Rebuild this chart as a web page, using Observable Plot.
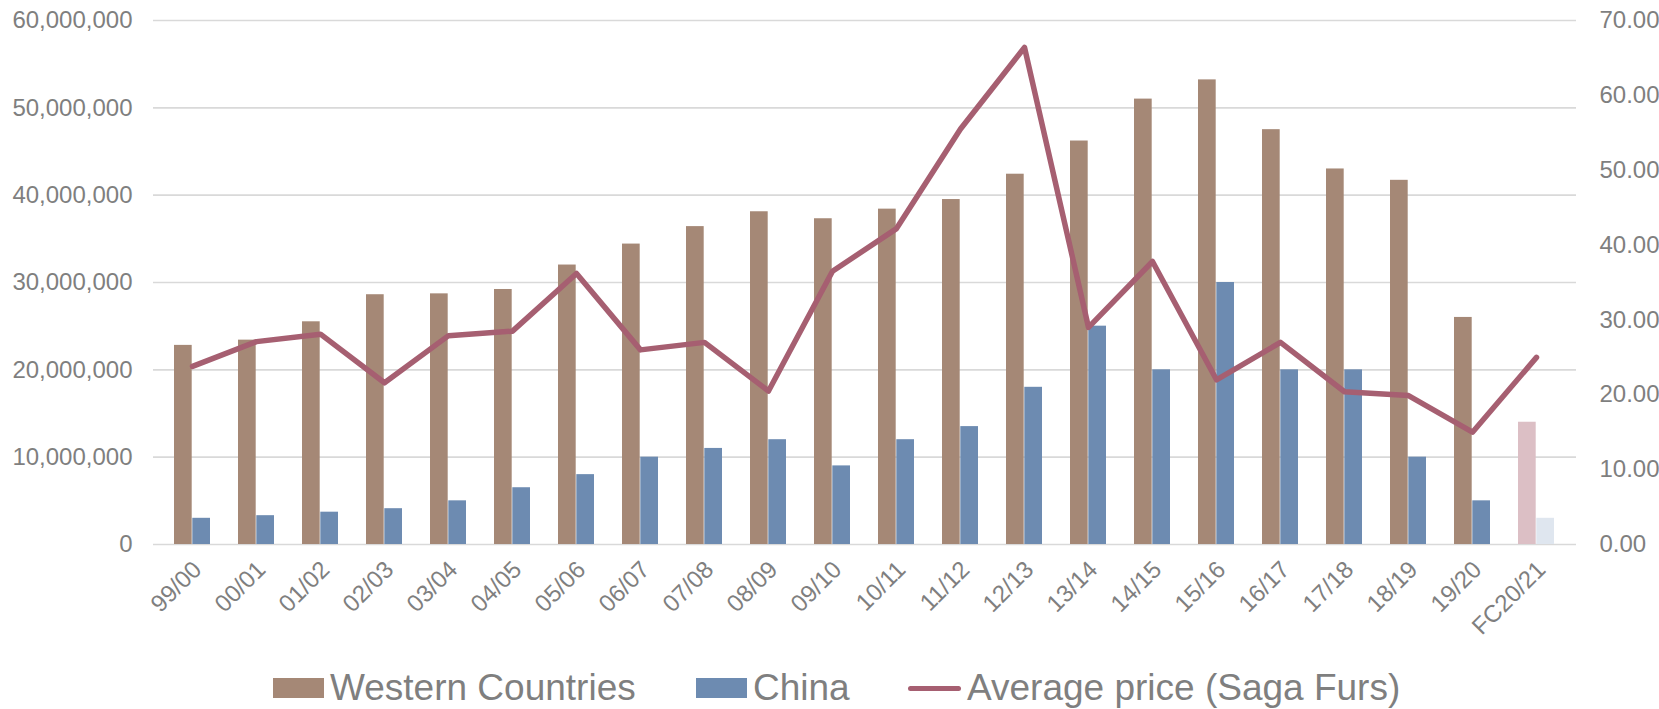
<!DOCTYPE html>
<html>
<head>
<meta charset="utf-8">
<script src="https://cdn.jsdelivr.net/npm/d3@7"></script>
<script src="https://cdn.jsdelivr.net/npm/@observablehq/plot@0.6"></script>
<style>
  body { margin: 0; background: #fff; font-family: "Liberation Sans", Arial, sans-serif; }
  #wrap { position: relative; width: 1659px; height: 709px; overflow: hidden; }
  #legend { position: absolute; left: 0; top: 670px; width: 1659px; height: 36px; color: #7f7f7f; font-size: 37px; }
  .item { position: absolute; top: 0; height: 36px; display: flex; align-items: center; white-space: nowrap; }
  .sw { display: inline-block; margin-right: 6px; }
</style>
</head>
<body>
<div id="wrap">
  <div id="chart"></div>
  <div id="legend"></div>
</div>
<script>
const categories = ["99/00","00/01","01/02","02/03","03/04","04/05","05/06","06/07","07/08","08/09","09/10","10/11","11/12","12/13","13/14","14/15","15/16","16/17","17/18","18/19","19/20","FC20/21"];
// millions of skins
const western = [22.8, 23.4, 25.5, 28.6, 28.7, 29.2, 32.0, 34.4, 36.4, 38.1, 37.3, 38.4, 39.5, 42.4, 46.2, 51.0, 53.2, 47.5, 43.0, 41.7, 26.0, 14.0];
const china   = [3.0, 3.3, 3.7, 4.1, 5.0, 6.5, 8.0, 10.0, 11.0, 12.0, 9.0, 12.0, 13.5, 18.0, 25.0, 20.0, 30.0, 20.0, 20.0, 10.0, 5.0, 3.0];
// average price (Saga Furs)
const price   = [23.8, 27.1, 28.1, 21.6, 27.9, 28.5, 36.2, 26.0, 27.0, 20.5, 36.5, 42.2, 55.5, 66.4, 29.0, 37.8, 22.0, 27.0, 20.4, 19.9, 15.0, 25.0];
const forecastCategory = "FC20/21";
const leftTicks = [0, 10e6, 20e6, 30e6, 40e6, 50e6, 60e6];
const rightTicks = [0, 10, 20, 30, 40, 50, 60, 70];
const seriesNames = ["Western Countries", "China", "Average price (Saga Furs)"];

const colors = {
  western: "#a58876", china: "#6d8bb1", line: "#a65f71",
  westernFC: "#dcbfc5", chinaFC: "#dfe6ef"
};

const leftMax = 60e6, rightMax = 70;
const k = leftMax / rightMax;

const rows = categories.map((c, i) => ({
  cat: c, western: western[i] * 1e6, china: china[i] * 1e6, price: price[i], fc: c === forecastCategory
}));

const W = 1659, H = 650, mL = 153, mR = 83;
const pInner = 0.434;
const bandwidth = (W - mL - mR) / categories.length * (1 - pInner);

const chart = Plot.plot({
  width: W, height: H,
  marginLeft: mL, marginRight: mR, marginTop: 20, marginBottom: 106,
  style: { fontFamily: "'Liberation Sans', Arial, sans-serif", fontSize: "24px", color: "#7f7f7f", background: "#fff", overflow: "visible" },
  x: { domain: categories, paddingInner: pInner, paddingOuter: pInner / 2 },
  y: { domain: [0, leftMax] },
  color: { type: "identity" },
  marks: [
    Plot.gridY(leftTicks, { stroke: "#d9d9d9", strokeOpacity: 1, strokeWidth: 1.6 }),
    Plot.barY(rows, { x: "cat", y: "western", fill: d => d.fc ? colors.westernFC : colors.western, insetRight: bandwidth / 2 }),
    Plot.barY(rows, { x: "cat", y: "china", fill: d => d.fc ? colors.chinaFC : colors.china, insetLeft: bandwidth / 2 }),
    Plot.line(rows, { x: "cat", y: d => d.price * k, stroke: colors.line, strokeWidth: 5.5, strokeLinecap: "round", strokeLinejoin: "round" }),
    Plot.axisY(leftTicks, { anchor: "left", tickSize: 0, tickPadding: 21, tickFormat: d3.format(","), label: null }),
    Plot.axisY(rightTicks.map(v => v * k), { anchor: "right", tickSize: 0, tickPadding: 23, tickFormat: v => (v / k).toFixed(2), label: null }),
    Plot.axisX({ tickRotate: -45, tickSize: 0, tickPadding: 21, dx: 5, label: null })
  ]
});
document.getElementById("chart").appendChild(chart);

const legend = document.getElementById("legend");
const items = [
  { left: 273, name: seriesNames[0], sw: `<span class="sw" style="width:51px;height:20px;background:${colors.western}"></span>` },
  { left: 696, name: seriesNames[1], sw: `<span class="sw" style="width:51px;height:20px;background:${colors.china}"></span>` },
  { left: 908, name: seriesNames[2], sw: `<span class="sw" style="width:53px;height:5px;border-radius:3px;background:${colors.line}"></span>` }
];
for (const it of items) {
  const d = document.createElement("div");
  d.className = "item";
  d.style.left = it.left + "px";
  d.innerHTML = it.sw + `<span>${it.name}</span>`;
  legend.appendChild(d);
}
</script>
</body>
</html>
